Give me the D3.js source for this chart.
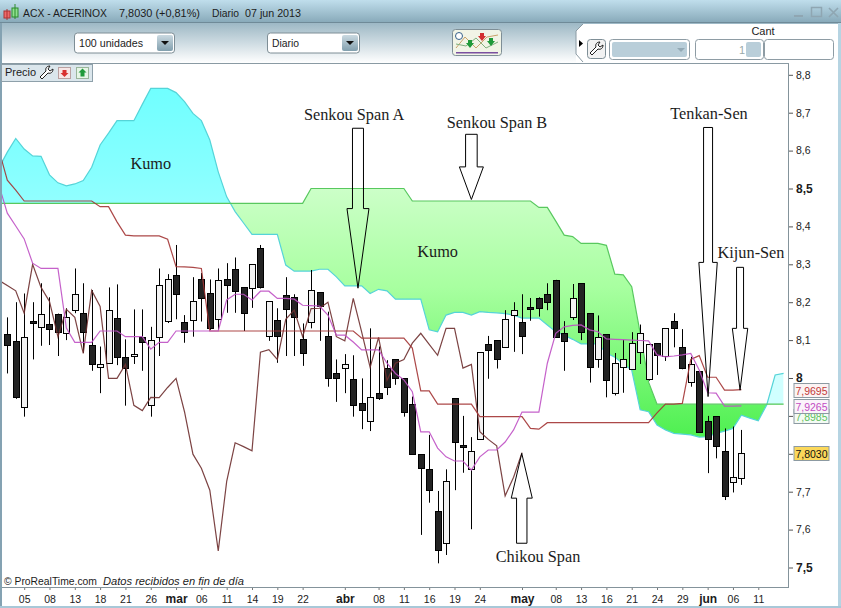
<!DOCTYPE html>
<html>
<head>
<meta charset="utf-8">
<script src="https://cdnjs.cloudflare.com/ajax/libs/d3/7.8.5/d3.min.js"></script>
<style>
    html, body { margin: 0; padding: 0; background: #fff; overflow: hidden; }
    svg { display: block; }
    text { font-family: "Liberation Sans", Arial, sans-serif; fill: #1c1c1c; }
</style>
</head>
<body>
<svg id="drawing_region" width="841" height="608"></svg>
<script>
// one value per session, session 0 is the first candle
const opens = [8.115,8.097,7.925,8.150,8.134,8.142,8.168,8.121,8.179,8.171,8.086,8.028,8.039,8.158,8.056,8.057,8.109,7.928,8.109,8.150,8.271,8.147,8.152,8.260,8.223,8.155,8.260,8.287,8.239,8.237,8.342,8.109,8.152,8.218,8.213,8.102,8.147,8.226,8.110,8.012,8.026,7.997,7.933,7.886,7.960,8.026,8.049,8.000,7.931,7.799,7.759,7.648,7.564,7.946,7.823,7.760,7.838,8.090,8.099,8.081,8.165,8.147,8.187,8.210,8.221,8.259,8.118,8.160,8.250,8.171,8.049,8.115,7.959,8.028,8.023,8.068,7.997,8.092,8.056,8.150,8.081,7.989,8.018,7.886,7.899,7.807,7.725,7.738];
const highs = [8.160,8.200,8.223,8.200,8.250,8.213,8.170,8.184,8.289,8.250,8.232,8.083,8.239,8.247,8.102,8.181,8.181,8.135,8.289,8.274,8.351,8.166,8.266,8.277,8.260,8.289,8.303,8.318,8.239,8.300,8.351,8.202,8.184,8.266,8.221,8.144,8.285,8.226,8.175,8.049,8.063,8.060,7.999,8.131,8.083,8.047,8.049,8.000,7.951,7.799,7.850,7.702,7.759,7.946,7.900,7.844,8.068,8.111,8.099,8.179,8.200,8.221,8.211,8.213,8.250,8.259,8.150,8.248,8.250,8.171,8.165,8.115,8.066,8.100,8.121,8.141,8.089,8.092,8.131,8.171,8.129,8.056,8.018,7.900,7.899,7.867,7.872,7.863];
const lows = [8.012,7.945,7.898,8.049,8.085,8.087,8.058,8.100,8.171,8.066,8.019,7.960,8.039,8.034,7.927,8.037,8.019,7.898,8.058,8.145,8.155,8.093,8.109,8.149,8.127,8.127,8.172,8.172,8.124,8.185,8.236,8.098,8.040,8.058,8.058,8.032,8.131,8.098,7.977,7.937,7.960,7.898,7.865,7.860,7.942,7.955,7.982,7.898,7.799,7.586,7.671,7.511,7.533,7.704,7.750,7.601,7.838,7.998,8.025,8.081,8.069,8.063,8.151,8.162,8.179,8.109,8.019,8.153,8.100,7.988,8.027,7.949,7.954,7.961,8.023,8.037,7.993,8.008,8.045,8.081,8.023,7.977,7.858,7.749,7.788,7.678,7.698,7.718];
const closes = [8.085,7.949,8.109,8.146,8.168,8.130,8.120,8.162,8.221,8.121,8.036,8.036,8.179,8.056,8.027,8.063,8.097,8.099,8.245,8.260,8.222,8.121,8.202,8.209,8.130,8.258,8.244,8.230,8.171,8.300,8.239,8.202,8.109,8.181,8.160,8.065,8.231,8.189,7.999,7.999,8.036,7.928,7.914,7.949,7.948,7.975,7.999,7.911,7.799,7.762,7.704,7.544,7.727,7.829,7.819,7.808,8.068,8.075,8.049,8.155,8.179,8.109,8.183,8.184,8.200,8.109,8.098,8.210,8.121,8.028,8.107,7.994,8.039,8.049,8.092,8.118,8.089,8.060,8.131,8.131,8.026,8.036,7.858,7.838,7.821,7.689,7.738,7.803];

// the ichimoku lines start one session before the first candle
const firstSession = -1;
const tenkan = [8.509,8.435,8.401,8.367,8.303,8.289,8.289,8.289,8.132,8.094,8.094,8.094,8.124,8.124,8.124,8.109,8.109,8.109,8.076,8.094,8.094,8.124,8.124,8.124,8.124,8.124,8.124,8.206,8.221,8.221,8.206,8.229,8.229,8.210,8.210,8.208,8.192,8.191,8.190,8.166,8.113,8.113,8.095,8.074,8.074,8.074,8.039,8.012,7.995,7.964,7.858,7.858,7.815,7.792,7.781,7.781,7.757,7.792,7.810,7.810,7.831,7.863,7.910,7.910,7.910,8.039,8.118,8.135,8.139,8.140,8.127,8.122,8.103,8.102,8.101,8.100,8.099,8.098,8.061,8.056,8.058,8.061,8.065,8.021,7.961,7.960,7.926,7.926,7.9265];
const kijun = [8.602,8.522,8.496,8.467,8.467,8.467,8.467,8.467,8.467,8.467,8.467,8.467,8.452,8.452,8.412,8.377,8.375,8.375,8.375,8.375,8.366,8.294,8.293,8.292,8.289,8.124,8.124,8.124,8.124,8.124,8.124,8.124,8.124,8.124,8.124,8.124,8.124,8.124,8.124,8.124,8.124,8.124,8.124,8.105,8.105,8.105,8.105,8.105,8.105,8.079,7.966,7.966,7.931,7.931,7.931,7.931,7.931,7.898,7.898,7.898,7.898,7.898,7.898,7.867,7.865,7.882,7.882,7.882,7.882,7.882,7.882,7.882,7.882,7.882,7.882,7.882,7.882,7.882,7.908,7.931,7.931,7.933,8.049,8.059,8.002,8.002,7.968,7.968,7.9695];
const chikou = [8.258,8.244,8.230,8.171,8.300,8.239,8.202,8.109,8.181,8.160,8.065,8.231,8.189,7.999,7.999,8.036,7.928,7.914,7.949,7.948,7.975,7.999,7.911,7.799,7.762,7.704,7.544,7.727,7.829,7.819,7.808,8.068,8.075,8.049,8.155,8.179,8.109,8.183,8.184,8.200,8.109,8.098,8.210,8.121,8.028,8.107,7.994,8.039,8.049,8.092,8.118,8.089,8.060,8.131,8.131,8.026,8.036,7.858,7.838,7.821,7.689,7.738,7.803];
const spanA = [8.554,8.596,8.632,8.604,8.586,8.585,8.536,8.515,8.507,8.512,8.521,8.556,8.615,8.646,8.679,8.679,8.679,8.722,8.764,8.764,8.764,8.753,8.729,8.698,8.679,8.628,8.544,8.478,8.439,8.409,8.379,8.379,8.379,8.379,8.298,8.282,8.282,8.282,8.287,8.287,8.267,8.243,8.243,8.243,8.223,8.234,8.230,8.208,8.208,8.208,8.208,8.127,8.122,8.166,8.173,8.173,8.166,8.175,8.173,8.172,8.170,8.166,8.158,8.158,8.158,8.140,8.122,8.113,8.102,8.090,8.090,8.090,8.066,8.055,8.037,8.021,7.916,7.911,7.876,7.863,7.854,7.852,7.850,7.844,7.845,7.854,7.860,7.867,7.902,7.894,7.887,7.929,8.008,8.012];
const spanB = [8.461,8.461,8.461,8.461,8.461,8.461,8.461,8.461,8.461,8.461,8.461,8.461,8.461,8.461,8.461,8.461,8.461,8.461,8.461,8.461,8.461,8.461,8.461,8.461,8.461,8.461,8.461,8.461,8.461,8.461,8.461,8.461,8.461,8.461,8.461,8.461,8.461,8.500,8.500,8.500,8.500,8.500,8.500,8.500,8.500,8.500,8.500,8.500,8.500,8.467,8.467,8.467,8.467,8.467,8.467,8.467,8.467,8.467,8.467,8.467,8.467,8.467,8.467,8.467,8.450,8.450,8.414,8.377,8.373,8.355,8.355,8.355,8.350,8.274,8.272,8.241,8.119,7.989,7.931,7.931,7.931,7.931,7.931,7.931,7.931,7.931,7.931,7.931,7.931,7.931,7.931,7.931,7.931,7.931];

const xTickSessions = [2,5,8,11,14,17,20,23,26,29,32,35,40,44,47,50,53,56,61,65,68,71,74,77,80,83,86,89];
const xTickLabels = ["05","08","13","18","21","26","mar","06","11","14","19","22","abr","08","11","16","19","24","may","08","13","16","21","24","29","jun","06","11"];
const yTicks = [8.8,8.7,8.6,8.5,8.4,8.3,8.2,8.1,8,7.9,7.8,7.7,7.6,7.5];
const boldPrices = [8.5,8,7.5];
const coveredPrices = [7.9,7.8]; // these tick labels sit under the price boxes

const valueLabels = [
    {text:"7,8985", price:7.8985, color:"#5fbf5f", top:"#f4fbf4", bottom:"#dff2df"},
    {text:"7,9695", price:7.9695, color:"#c23a3a", top:"#fbf3f3", bottom:"#eee2e2"},
    {text:"7,9265", price:7.9265, color:"#c24cc2", top:"#fbf4fb", bottom:"#eee2ee"},
    {text:"7,8030", price:7.8030, color:"#111", top:"#fbd85a", bottom:"#efb61e"}
];

const notes = [
    {text:"Kumo", session:17.0, price:8.551},
    {text:"Kumo", session:51.0, price:8.319},
    {text:"Senkou Span A", session:41.1, price:8.681},
    {text:"Senkou Span B", session:58.04, price:8.660},
    {text:"Tenkan-Sen", session:83.16, price:8.683},
    {text:"Kijun-Sen", session:88.14, price:8.317},
    {text:"Chikou Span", session:62.9, price:7.515}
];
const arrows = [
    {session:41.56, tip:8.237, base:8.447, tail:8.659, shaft:5.5, head:11},
    {session:55.0, tip:8.471, base:8.557, tail:8.643, shaft:5.8, head:12},
    {session:83.05, tip:7.951, base:8.305, tail:8.661, shaft:4.5, head:9.2},
    {session:86.84, tip:7.968, base:8.131, tail:8.292, shaft:3.5, head:7.7},
    {session:60.97, tip:7.801, base:7.683, tail:7.564, shaft:5.2, head:10.5}
];

const svg = d3.select("#drawing_region");
const plot = {left:2, right:788, top:64, bottom:587};

const xscale = d3.scaleLinear().domain([0, 87]).range([7.3, 741.4]);
const yscale = d3.scaleLinear().domain([7.5, 8.8]).range([567.5, 74.8]);

const defs = svg.append("defs");

function vgrad(id, stops, y1, y2) {
    const g = defs.append("linearGradient")
        .attr("id", id)
        .attr("gradientUnits", "userSpaceOnUse")
        .attr("x1", 0).attr("x2", 0)
        .attr("y1", y1).attr("y2", y2);
    stops.forEach(s => g.append("stop").attr("offset", s[0]).attr("stop-color", s[1]));
}

vgrad("title_bg", [[0,"#c0deec"],[1,"#86a8b8"]], 0, 23);
vgrad("tool_bg", [[0,"#9db8c5"],[1,"#ffffff"]], 23, 63);
vgrad("btn_bg", [[0,"#cfdde4"],[1,"#7d9cab"]], 34, 52);
vgrad("cyan_bg", [[0,"#70ffff"],[0.3,"#88ffff"],[1,"#d0ffff"]], yscale(8.764), yscale(8.0));
vgrad("green_bg", [[0,"#ccffc8"],[0.4,"#a8ffa0"],[1,"#50f052"]], yscale(8.5), yscale(7.85));

defs.append("clipPath").attr("id", "plot_clip").append("rect")
    .attr("x", plot.left).attr("y", plot.top)
    .attr("width", plot.right - plot.left).attr("height", plot.bottom - plot.top);

const sessionOf = i => i + firstSession;
const lineOf = d3.line().x((d, i) => xscale(sessionOf(i))).y(d => yscale(d));

// kumo: filled between the two spans, colour depends on which span is on top
const cloudArea = d3.area()
    .x((d, i) => xscale(sessionOf(i)))
    .y0((d, i) => yscale(spanB[i]))
    .y1(d => yscale(d));
const aboveB = d3.area().x((d, i) => xscale(sessionOf(i))).y0(plot.top).y1(d => yscale(d));
const belowB = d3.area().x((d, i) => xscale(sessionOf(i))).y0(plot.bottom).y1(d => yscale(d));

defs.append("clipPath").attr("id", "above_b").append("path").attr("d", aboveB(spanB));
defs.append("clipPath").attr("id", "below_b").append("path").attr("d", belowB(spanB));

const chart = svg.append("g").attr("clip-path", "url(#plot_clip)");

chart.append("g").attr("clip-path", "url(#above_b)").append("path")
    .attr("d", cloudArea(spanA)).attr("fill", "url(#cyan_bg)");
chart.append("g").attr("clip-path", "url(#below_b)").append("path")
    .attr("d", cloudArea(spanA)).attr("fill", "url(#green_bg)");

chart.append("path").attr("d", lineOf(spanA)).attr("fill", "none").attr("stroke", "#55d4d8").attr("stroke-width", 1.2);
chart.append("path").attr("d", lineOf(spanB)).attr("fill", "none").attr("stroke", "#58c85e").attr("stroke-width", 1.2);

// candles
const sessions = d3.range(opens.length);
const wickX = i => Math.round(xscale(i)) + 0.5;

chart.append("g").selectAll("line")
    .data(sessions)
    .join("line")
    .attr("x1", wickX).attr("x2", wickX)
    .attr("y1", i => yscale(highs[i]))
    .attr("y2", i => yscale(lows[i]))
    .attr("stroke", "#000");

chart.append("g").selectAll("rect")
    .data(sessions)
    .join("rect")
    .attr("x", i => wickX(i) - 3)
    .attr("width", 6)
    .attr("y", i => Math.round(yscale(Math.max(opens[i], closes[i]))) + 0.5)
    .attr("height", i => Math.max(1, Math.round(Math.abs(yscale(opens[i]) - yscale(closes[i])))))
    .attr("fill", i => closes[i] >= opens[i] ? "#f3f3f3" : "#232323")
    .attr("stroke", "#000");

// lines pass over the candles
[[chikou, "#6e2f2f"], [kijun, "#a33434"], [tenkan, "#bf50c4"]].forEach(l => {
    chart.append("path")
        .attr("d", lineOf(l[0]))
        .attr("fill", "none")
        .attr("stroke", l[1])
        .attr("stroke-width", 1.2)
        .attr("stroke-opacity", 0.9);
});

// hand drawn arrows and names
chart.append("g").selectAll("path")
    .data(arrows)
    .join("path")
    .attr("d", a => {
        const x = xscale(a.session), t = yscale(a.tail), b = yscale(a.base), p = yscale(a.tip);
        return `M${x - a.shaft},${t}H${x + a.shaft}V${b}H${x + a.head}L${x},${p}L${x - a.head},${b}H${x - a.shaft}Z`;
    })
    .attr("fill", "none")
    .attr("stroke", "#000")
    .attr("stroke-width", 1);

chart.append("g").selectAll("text")
    .data(notes)
    .join("text")
    .attr("x", n => xscale(n.session))
    .attr("y", n => yscale(n.price))
    .attr("text-anchor", "middle")
    .style("font-family", "'Liberation Serif', 'Times New Roman', serif")
    .style("font-size", "16.3px")
    .text(n => n.text);

// text that has to fill a given width, the original font is a little narrower
function fitText(parent, x, y, w, size, label) {
    return parent.append("text")
        .attr("x", x).attr("y", y)
        .attr("textLength", w)
        .attr("lengthAdjust", "spacingAndGlyphs")
        .style("font-size", size + "px")
        .text(label);
}

fitText(chart, 4, 585, 93, 11, "© ProRealTime.com");
fitText(chart, 103, 585, 141, 11, "Datos recibidos en fin de día").style("font-style", "italic");

// axes
const yaxis = d3.axisRight(yscale)
    .tickValues(yTicks)
    .tickSize(5)
    .tickPadding(3)
    .tickFormat(d => coveredPrices.includes(d) ? "" : String(d).replace(".", ","));
const yaxis_group = svg.append("g").attr("transform", `translate(${plot.right}, 0)`).call(yaxis);
yaxis_group.select(".domain").remove();
yaxis_group.selectAll("line").attr("stroke", "#555");
yaxis_group.selectAll("text")
    .style("font-size", d => boldPrices.includes(d) ? "12px" : "10.5px")
    .style("font-weight", d => boldPrices.includes(d) ? "bold" : "normal");

const xaxis = d3.axisBottom(xscale)
    .tickValues(xTickSessions)
    .tickSize(3)
    .tickPadding(3)
    .tickFormat((d, i) => xTickLabels[i]);
const xaxis_group = svg.append("g").attr("transform", `translate(0, ${plot.bottom})`).call(xaxis);
xaxis_group.select(".domain").remove();
xaxis_group.selectAll("line").attr("stroke", "#777");
xaxis_group.selectAll("text")
    .attr("dy", null).attr("y", 16)
    .style("font-size", (d, i) => isNaN(+xTickLabels[i]) ? "12px" : "10.5px")
    .style("font-weight", (d, i) => isNaN(+xTickLabels[i]) ? "bold" : "normal");

svg.append("line").attr("x1", plot.right + 0.5).attr("x2", plot.right + 0.5).attr("y1", 63).attr("y2", plot.bottom + 1).attr("stroke", "#84939b").attr("stroke-width", 1);
svg.append("line").attr("x1", 0).attr("x2", plot.right + 1).attr("y1", plot.bottom + 0.5).attr("y2", plot.bottom + 0.5).attr("stroke", "#84939b");

// price labels on the right
const value_g = svg.append("g").selectAll("g")
    .data(valueLabels)
    .join("g")
    .attr("transform", d => `translate(794, ${Math.round(yscale(d.price)) - 6.5})`);
valueLabels.forEach((d, i) => vgrad("val" + i, [[0, d.top], [1, d.bottom]], yscale(d.price) - 7, yscale(d.price) + 7));
value_g.append("rect")
    .attr("width", 35).attr("height", 14)
    .attr("fill", d => { const i = valueLabels.indexOf(d); return `url(#val${i})`; })
    .attr("stroke", "#8c9aa2");
value_g.append("text")
    .attr("x", 17.5).attr("y", 11)
    .attr("text-anchor", "middle")
    .style("font-size", "10.5px")
    .style("fill", d => d.color)
    .text(d => d.text);

// window frame
svg.append("rect").attr("x", 0).attr("y", 0).attr("width", 841).attr("height", 23).attr("fill", "url(#title_bg)");
svg.append("rect").attr("x", 0).attr("y", 23).attr("width", 841).attr("height", 40).attr("fill", "url(#tool_bg)");
svg.append("rect").attr("x", 0).attr("y", 22).attr("width", 841).attr("height", 1).attr("fill", "#6f8a98");
svg.append("rect").attr("x", 0).attr("y", 63).attr("width", plot.right + 1).attr("height", 1).attr("fill", "#8a9aa3");
svg.append("rect").attr("x", 0).attr("y", 23).attr("width", 2).attr("height", 585).attr("fill", "#84a2b2");
svg.append("rect").attr("x", 838).attr("y", 23).attr("width", 3).attr("height", 585).attr("fill", "#b6d4e2");
svg.append("rect").attr("x", 0).attr("y", 606).attr("width", 841).attr("height", 2).attr("fill", "#a8c8d8");

// white tab with the order controls
svg.append("path").attr("d", "M576,63 V31 L583,24 H838 V63 Z").attr("fill", "#fff");
svg.append("path").attr("d", "M583,24 L576,31 V54 L583,62").attr("fill", "none").attr("stroke", "#8a9aa3");
svg.append("path").attr("d", "M579,40 L583,43.5 L579,47 Z").attr("fill", "#000");

// title bar
svg.append("rect").attr("x", 4).attr("y", 11).attr("width", 6).attr("height", 7).attr("fill", "#ee6a6a").attr("stroke", "#a33");
svg.append("line").attr("x1", 7).attr("x2", 7).attr("y1", 9).attr("y2", 20).attr("stroke", "#a33");
svg.append("rect").attr("x", 12).attr("y", 8).attr("width", 6).attr("height", 9).attr("fill", "#8fe08f").attr("stroke", "#2a8a2a");
svg.append("line").attr("x1", 15).attr("x2", 15).attr("y1", 4).attr("y2", 19).attr("stroke", "#2a8a2a");
fitText(svg, 23, 17, 84, 11.5, "ACX - ACERINOX");
fitText(svg, 119, 17, 81, 11.5, "7,8030 (+0,81%)");
fitText(svg, 212, 17, 27, 11.5, "Diario");
fitText(svg, 245, 17, 56, 11.5, "07 jun 2013");
svg.append("rect").attr("x", 794).attr("y", 15).attr("width", 9).attr("height", 2).attr("fill", "#8fa6b2");
svg.append("rect").attr("x", 811.5).attr("y", 7.5).attr("width", 10).attr("height", 9).attr("fill", "none").attr("stroke", "#8fa6b2").attr("stroke-width", 1.5);
svg.append("path").attr("d", "M829,8 L838,17 M838,8 L829,17").attr("stroke", "#8fa6b2").attr("stroke-width", 1.6);

// dropdowns
function dropdown(x, w, label, labelWidth) {
    svg.append("rect").attr("x", x + 0.5).attr("y", 33).attr("width", w).attr("height", 20).attr("rx", 3).attr("fill", "#fff").attr("stroke", "#7e8e96");
    svg.append("rect").attr("x", x + w - 17).attr("y", 35).attr("width", 16).attr("height", 16).attr("rx", 2).attr("fill", "url(#btn_bg)");
    svg.append("path").attr("d", `M${x + w - 13},41 h8 l-4,4 Z`).attr("fill", "#111");
    fitText(svg, x + 5, 47, labelWidth, 11, label);
}
dropdown(74, 100, "100 unidades", 64);
dropdown(267, 92, "Diario", 27);

// indicator button
svg.append("rect").attr("x", 452.5).attr("y", 29.5).attr("width", 49).attr("height", 26).attr("rx", 3).attr("fill", "#f1f4e6").attr("stroke", "#7e8e96");
svg.append("path").attr("d", "M456,48 L465,37 L476,48 L487,37 L498,35").attr("fill", "none").attr("stroke", "#c9a26a");
svg.append("path").attr("d", "M456,44 L466,46 L476,38 L486,48 L498,42").attr("fill", "none").attr("stroke", "#7fb07f");
svg.append("path").attr("d", "M470,48 l-4,-5 h2 v-3 h4 v3 h2 Z M491,46 l-4,-5 h2 v-3 h4 v3 h2 Z").attr("fill", "#1f9a3a");
svg.append("path").attr("d", "M482,41 l-4,-5 h2 v-3 h4 v3 h2 Z").attr("fill", "#d23030");
svg.append("circle").attr("cx", 459).attr("cy", 36).attr("r", 3.5).attr("fill", "#fff").attr("stroke", "#35608a");
svg.append("rect").attr("x", 456).attr("y", 52).attr("width", 42).attr("height", 1.5).attr("fill", "#7a4fa0");

// wrench shapes share one path
const wrench = "M0,11 L6,5 C5,2 7,0 10,0 L8,3 L10,5 L13,3 C13,6 11,8 8,7 L2,13 Z";
function wrenchAt(x, y) {
    svg.append("path").attr("d", wrench).attr("transform", `translate(${x}, ${y})`).attr("fill", "#fff").attr("stroke", "#222");
}

// right hand controls
svg.append("rect").attr("x", 587.5).attr("y", 39.5).attr("width", 18).attr("height", 19).attr("rx", 3).attr("fill", "#f2f2f2").attr("stroke", "#7e8e96");
wrenchAt(590, 42);
svg.append("rect").attr("x", 609.5).attr("y", 39.5).attr("width", 80).attr("height", 20).attr("rx", 3).attr("fill", "#fff").attr("stroke", "#8e9ca4");
svg.append("rect").attr("x", 612).attr("y", 42).attr("width", 75).attr("height", 15).attr("rx", 2).attr("fill", "#b9ced9");
svg.append("path").attr("d", "M677,48 h8 l-4,4 Z").attr("fill", "#93a9b5");
svg.append("rect").attr("x", 695.5).attr("y", 39.5).attr("width", 68).attr("height", 20).attr("rx", 3).attr("fill", "#fff").attr("stroke", "#8e9ca4");
svg.append("rect").attr("x", 746).attr("y", 42).attr("width", 15).attr("height", 15).attr("rx", 2).attr("fill", "#b9ced9");
svg.append("text").attr("x", 739).attr("y", 54).style("font-size", "11px").style("fill", "#9aa").text("1");
svg.append("rect").attr("x", 764.5).attr("y", 39.5).attr("width", 69).attr("height", 20).attr("rx", 3).attr("fill", "#fff").attr("stroke", "#8e9ca4");
svg.append("text").attr("x", 763).attr("y", 35).attr("text-anchor", "middle").style("font-size", "11px").text("Cant");

// price tag top left
svg.append("rect").attr("x", 1.5).attr("y", 64.5).attr("width", 91).attr("height", 17).attr("fill", "#dbe6ec").attr("stroke", "#8ea0aa");
svg.append("text").attr("x", 5).attr("y", 76).style("font-size", "11px").text("Precio");
wrenchAt(40, 66);
svg.append("rect").attr("x", 58.5).attr("y", 67.5).attr("width", 12).attr("height", 11).attr("fill", "#f7e6e6").attr("stroke", "#b9a0a0");
svg.append("path").attr("d", "M64.5,77 l-4,-4 h2 v-3 h4 v3 h2 Z").attr("fill", "#d83030");
svg.append("rect").attr("x", 76.5).attr("y", 67.5).attr("width", 12).attr("height", 11).attr("fill", "#e6f5e6").attr("stroke", "#9ab59a");
svg.append("path").attr("d", "M82.5,68.5 l4,4 h-2 v4 h-4 v-4 h-2 Z").attr("fill", "#1f9a3a");
</script>
</body>
</html>
